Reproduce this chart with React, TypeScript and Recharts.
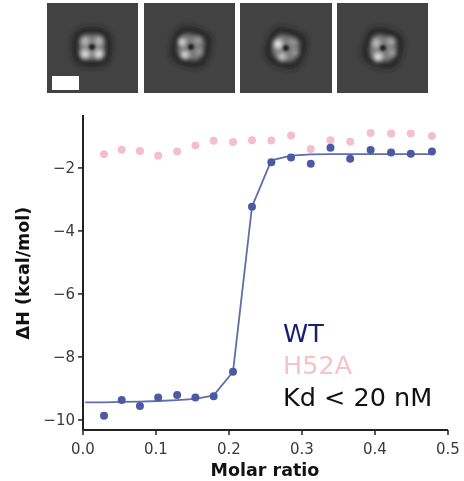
import React from "react";
import { ComposedChart, Line, Scatter, XAxis, YAxis } from "recharts";

const molarRatio = [0.0288, 0.053, 0.078, 0.103, 0.129, 0.154, 0.179, 0.2055, 0.2315, 0.258, 0.285, 0.312, 0.339, 0.366, 0.394, 0.422, 0.449, 0.478];
const wtValues = [-9.87, -9.37, -9.56, -9.29, -9.21, -9.29, -9.25, -8.47, -3.23, -1.82, -1.67, -1.87, -1.36, -1.71, -1.43, -1.51, -1.55, -1.48];
const h52aValues = [-1.565, -1.42, -1.46, -1.61, -1.48, -1.29, -1.14, -1.18, -1.12, -1.13, -0.97, -1.4, -1.12, -1.17, -0.89, -0.91, -0.91, -0.99];
const fitRatio = [0.003, 0.0288, 0.053, 0.078, 0.103, 0.129, 0.154, 0.179, 0.2055, 0.2315, 0.258, 0.285, 0.312, 0.339, 0.366, 0.394, 0.422, 0.449, 0.478];
const fitValues = [-9.44, -9.44, -9.43, -9.42, -9.4, -9.37, -9.33, -9.22, -8.47, -3.23, -1.76, -1.61, -1.57, -1.56, -1.56, -1.56, -1.56, -1.56, -1.56];
const xTicks = [0, 0.1, 0.2, 0.3, 0.4, 0.5];
const yTicks = [-2, -4, -6, -8, -10];

const wtPoints = molarRatio.map((x, i) => ({ x, y: wtValues[i] }));
const h52aPoints = molarRatio.map((x, i) => ({ x, y: h52aValues[i] }));
const fitPoints = fitRatio.map((x, i) => ({ x, y: fitValues[i] }));

const FONT = "'DejaVu Sans', sans-serif";

const panels = [
  { x: 47, w: 91, cx: 92, cy: 47, rot: 0, blobs: [[-7, -6, 4, 0.55], [7, -6, 4, 0.55], [-7, 7, 4.5, 0.8], [7, 7, 4.5, 0.8]] },
  { x: 144, w: 91, cx: 191, cy: 47, rot: 0, blobs: [[-9, -5, 3.5, 0.95], [-6, 8, 3.5, 0.95], [7, -7, 3, 0.45], [9, 5, 3, 0.4]] },
  { x: 240, w: 92, cx: 286, cy: 48, rot: 0, blobs: [[-8, -4, 4.5, 0.9], [-4, 9, 4, 0.65], [7, -6, 3, 0.35], [10, 5, 3.5, 0.35]] },
  { x: 337, w: 91, cx: 383, cy: 48, rot: 0, blobs: [[-7, -5, 4.5, 0.55], [-5, 9, 4.5, 0.85], [8, -7, 3.5, 0.5], [10, 5, 3.5, 0.45]] },
];
const rotations = [0, 14, 18, 16];

function Micrographs() {
  return (
    <svg width={464} height={100} style={{ position: "absolute", left: 0, top: 0 }}>
      <defs>
        <filter id="b5" x="-60%" y="-60%" width="220%" height="220%"><feGaussianBlur stdDeviation="3" /></filter>
        <filter id="b3" x="-60%" y="-60%" width="220%" height="220%"><feGaussianBlur stdDeviation="2.4" /></filter>
        <filter id="b1" x="-60%" y="-60%" width="220%" height="220%"><feGaussianBlur stdDeviation="1.3" /></filter>
      </defs>
      {panels.map((p, i) => (
        <g key={i}>
          <rect x={p.x} y={3} width={p.w} height={90} fill="#424242" />
          <g transform={`translate(${p.cx} ${p.cy}) rotate(${rotations[i]})`}>
            <rect x={-19} y={-19} width={38} height={38} rx={14} fill="#1e1e1e" filter="url(#b5)" />
            <rect x={-13} y={-13} width={26} height={26} rx={8} fill="#7a7a7a" filter="url(#b3)" />
          </g>
          <g transform={`translate(${p.cx} ${p.cy})`}>
            {p.blobs.map((b, j) => (
              <circle key={j} cx={b[0]} cy={b[1]} r={b[2]} fill="#ffffff" opacity={b[3]} filter="url(#b3)" />
            ))}
            <circle r={3} fill="#222222" filter="url(#b1)" />
          </g>
        </g>
      ))}
      <rect x={52} y={76} width={27} height={14} fill="#ffffff" />
    </svg>
  );
}

const fmt = (v: number) => String(v).replace("-", "\u2212");
const fmtX = (v: number) => v.toFixed(1);
const tickStyle = { fontSize: 15, fontFamily: FONT, fill: "#3a3a3a" };
const axisLine = { stroke: "#222222", strokeWidth: 2 };
const tickLine = { stroke: "#222222", strokeWidth: 1.5 };

export default function App() {
  return (
    <div style={{ position: "absolute", left: 0, top: 0, width: 464, height: 481, background: "#fff", overflow: "hidden", filter: "blur(0.45px)" }}>
      <Micrographs />
      <div style={{ position: "absolute", left: 0, top: 0 }}>
        <ComposedChart width={464} height={481} margin={{ top: 115, right: 16, bottom: 21, left: 33 }}>
          <XAxis dataKey="x" type="number" domain={[0, 0.5]} ticks={xTicks} tickFormatter={fmtX} height={30} tick={tickStyle} axisLine={axisLine} tickLine={tickLine} tickSize={5} tickMargin={8} allowDuplicatedCategory={false} />
          <YAxis dataKey="y" type="number" domain={[-10.32, -0.32]} ticks={yTicks} tickFormatter={fmt} width={50} tick={tickStyle} axisLine={axisLine} tickLine={tickLine} tickSize={5} tickMargin={3} />
          <Line data={fitPoints} dataKey="y" type="linear" stroke="#5f6eaa" strokeWidth={1.8} dot={false} isAnimationActive={false} />
          <Scatter data={h52aPoints} dataKey="y" fill="#f3bfcd" isAnimationActive={false} shape={(p: any) => <circle cx={p.cx} cy={p.cy} r={4} fill="#f3bfcd" />} />
          <Scatter data={wtPoints} dataKey="y" fill="#4c5aa5" isAnimationActive={false} shape={(p: any) => <circle cx={p.cx} cy={p.cy} r={4} fill="#4c5aa5" />} />
        </ComposedChart>
      </div>
      <svg width={464} height={481} style={{ position: "absolute", left: 0, top: 0, pointerEvents: "none" }}>
        <text x={23} y={273} transform="rotate(-90 23 273)" textAnchor="middle" dominantBaseline="central" fontFamily={FONT} fontWeight="bold" fontSize={17.5} fill="#111">ΔH (kcal/mol)</text>
        <text x={265} y={476} textAnchor="middle" fontFamily={FONT} fontWeight="bold" fontSize={17.5} fill="#111">Molar ratio</text>
        <text x={283} y={342} fontFamily={FONT} fontSize={25.5} fill="#16206e">WT</text>
        <text x={283} y={374} fontFamily={FONT} fontSize={25.5} fill="#f3c4c8">H52A</text>
        <text x={283} y={406} fontFamily={FONT} fontSize={25.5} fill="#111">Kd &lt; 20 nM</text>
      </svg>
    </div>
  );
}
